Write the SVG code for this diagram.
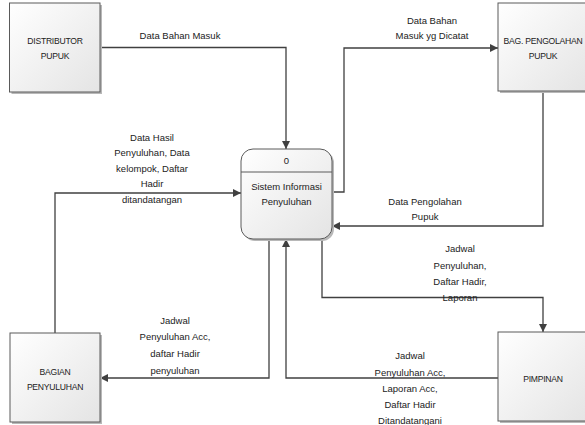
<svg xmlns="http://www.w3.org/2000/svg" width="585" height="425" viewBox="0 0 585 425">
<defs>
<linearGradient id="g" x1="0" y1="0" x2="1" y2="1">
<stop offset="0" stop-color="#ffffff"/>
<stop offset="1" stop-color="#e4e4e4"/>
</linearGradient>
<marker id="ar" viewBox="0 0 10 10" refX="10" refY="5" markerWidth="8" markerHeight="8" markerUnits="userSpaceOnUse" orient="auto">
<path d="M0,0 L10,5 L0,10 z" fill="#404040"/>
</marker>
</defs>
<style>
.box{fill:url(#g);stroke:#5a5a5a;stroke-width:1}
.sh{fill:#b8b8b8}
.nt{font-family:"Liberation Sans",Arial,sans-serif;font-size:8.6px;letter-spacing:-0.25px;fill:#222;text-anchor:middle}
.ct{font-family:"Liberation Sans",Arial,sans-serif;font-size:9.5px;fill:#222;text-anchor:middle}
.lb{font-family:"Liberation Sans",Arial,sans-serif;font-size:9.5px;fill:#222;text-anchor:middle}
.cn{fill:none;stroke:#404040;stroke-width:1.3;marker-end:url(#ar)}
</style>
<rect width="585" height="425" fill="#ffffff"/>

<g id="connectors">
<path class="cn" d="M100,47.5 H286 V149"/>
<path class="cn" d="M332,192 H344 V48 H498"/>
<path class="cn" d="M543,91 V226 H332"/>
<path class="cn" d="M55,333 V193 H241"/>
<path class="cn" d="M269,239 V378 H100"/>
<path class="cn" d="M322,239 V297.5 H543 V332"/>
<path class="cn" d="M498,378 H286 V239"/>
</g>

<g id="labels">
<text class="lb" x="180" y="39">Data Bahan Masuk</text>
<text class="lb" x="432" y="24">Data Bahan</text>
<text class="lb" x="432" y="39">Masuk yg Dicatat</text>
<text class="lb" x="425" y="205">Data Pengolahan</text>
<text class="lb" x="425" y="220">Pupuk</text>
<text class="lb" x="152" y="140.5">Data Hasil</text>
<text class="lb" x="152" y="156">Penyuluhan, Data</text>
<text class="lb" x="152" y="171.5">kelompok, Daftar</text>
<text class="lb" x="152" y="187">Hadir</text>
<text class="lb" x="152" y="203">ditandatangan</text>
<text class="lb" x="175" y="324">Jadwal</text>
<text class="lb" x="175" y="340">Penyuluhan Acc,</text>
<text class="lb" x="175" y="357">daftar Hadir</text>
<text class="lb" x="175" y="373.5">penyuluhan</text>
<text class="lb" x="460" y="252">Jadwal</text>
<text class="lb" x="460" y="268.5">Penyuluhan,</text>
<text class="lb" x="460" y="285">Daftar Hadir,</text>
<text class="lb" x="460" y="301">Laporan</text>
<text class="lb" x="410" y="359">Jadwal</text>
<text class="lb" x="410" y="375.5">Penyuluhan Acc,</text>
<text class="lb" x="410" y="392">Laporan Acc,</text>
<text class="lb" x="410" y="408">Daftar Hadir</text>
<text class="lb" x="410" y="424">Ditandatangani</text>
</g>

<g id="distributor">
<rect class="sh" x="11.5" y="5" width="90.5" height="89"/>
<rect class="box" x="9.5" y="3" width="90.5" height="89"/>
<text class="nt" x="55" y="44">DISTRIBUTOR</text>
<text class="nt" x="55" y="59">PUPUK</text>
</g>

<g id="pengolahan">
<rect class="sh" x="500" y="5" width="90" height="88"/>
<rect class="box" x="498" y="3" width="90" height="88"/>
<text class="nt" x="543" y="43.5">BAG. PENGOLAHAN</text>
<text class="nt" x="543" y="58.5">PUPUK</text>
</g>

<g id="sistem">
<rect class="sh" x="243" y="151" width="91" height="90" rx="12"/>
<rect class="box" x="241" y="149" width="91" height="90" rx="12"/>
<line x1="241" y1="172" x2="332" y2="172" stroke="#5a5a5a" stroke-width="1"/>
<text class="ct" x="286.5" y="164">0</text>
<text class="ct" x="286.5" y="190">Sistem Informasi</text>
<text class="ct" x="286.5" y="205">Penyuluhan</text>
</g>

<g id="bagian">
<rect class="sh" x="12" y="335" width="90" height="89"/>
<rect class="box" x="10" y="333" width="90" height="89"/>
<text class="nt" x="55" y="374.5">BAGIAN</text>
<text class="nt" x="55" y="389.5">PENYULUHAN</text>
</g>

<g id="pimpinan">
<rect class="sh" x="500" y="334" width="90" height="89"/>
<rect class="box" x="498" y="332" width="90" height="89"/>
<text class="nt" x="543" y="381.5">PIMPINAN</text>
</g>
</svg>
